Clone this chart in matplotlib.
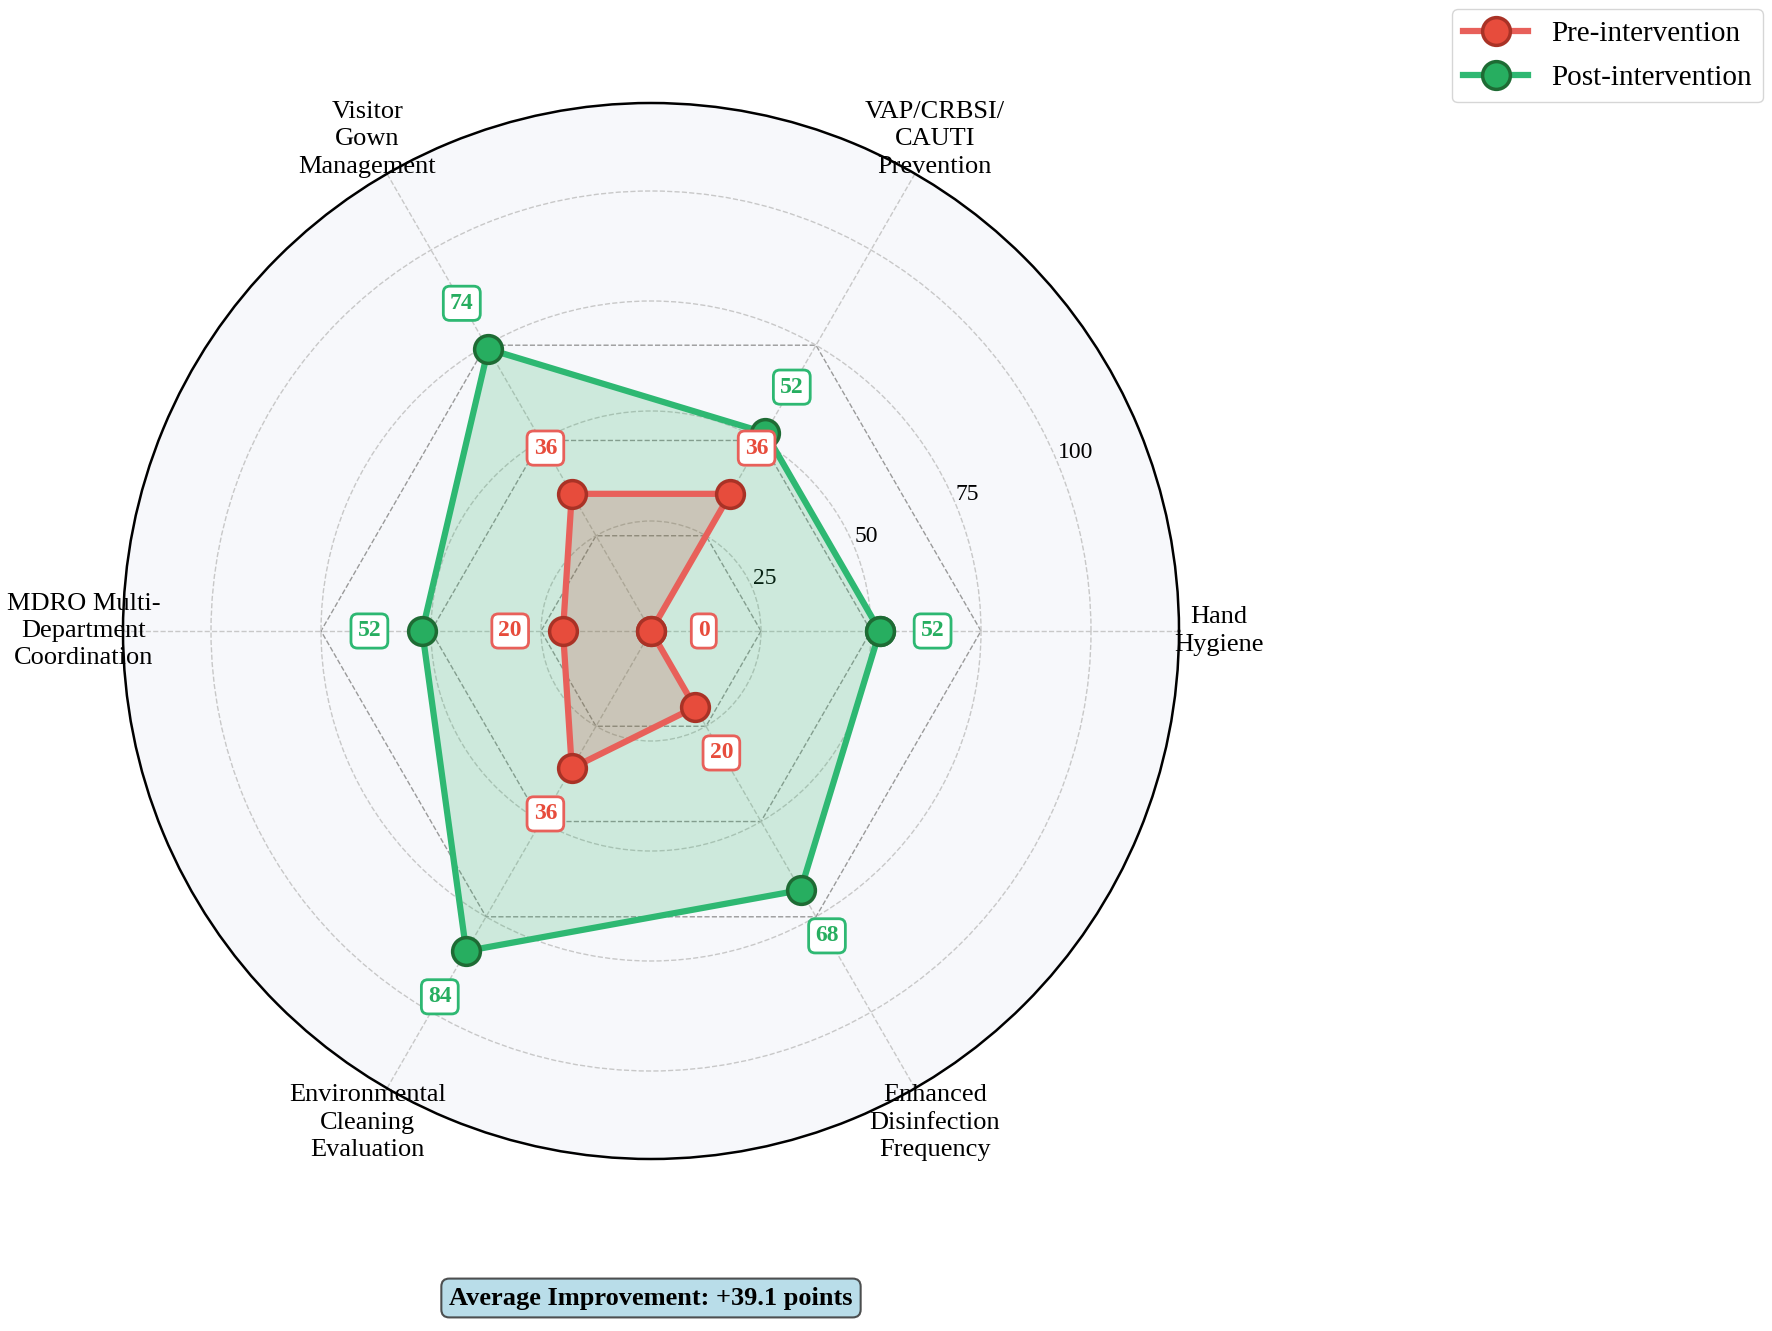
import numpy as np
import matplotlib.pyplot as plt

plt.rcParams['font.family'] = ['Liberation Serif', 'DejaVu Serif']

# data
categories = ['Hand\nHygiene', 'VAP/CRBSI/\nCAUTI\nPrevention', 'Visitor\nGown\nManagement',
              'MDRO Multi-\nDepartment\nCoordination', 'Environmental\nCleaning\nEvaluation',
              'Enhanced\nDisinfection\nFrequency']
pre = [0, 36, 36, 20, 36, 20]
post = [52, 52, 74, 52, 84, 68]
r_ticks = [25, 50, 75, 100]
hex_levels = [25, 50, 75]
summary = 'Average Improvement: +39.1 points'

pre_line, pre_face, pre_edge = '#e8605a', '#e74c3c', '#a93226'
post_line, post_face, post_edge = '#2eb872', '#27ae60', '#1e6b34'

n = len(categories)
angles = np.linspace(0, 2 * np.pi, n, endpoint=False)
ang_c = np.append(angles, angles[0])

fig = plt.figure(figsize=(17.72, 13.31), dpi=100)
ax = fig.add_axes([123 / 1772, 172 / 1331, 1056 / 1772, 1056 / 1331], polar=True)
ax.set_facecolor('#f7f8fb')
ax.set_ylim(0, 120)

# hexagon grid
for r in hex_levels:
    ax.plot(ang_c, [r] * (n + 1), color='#9a9a9a', lw=1.0, ls='--', zorder=1)

ax.plot(ang_c, pre + pre[:1], color=pre_line, lw=4.5, marker='o', markersize=20,
        markerfacecolor=pre_face, markeredgecolor=pre_edge, markeredgewidth=2.5,
        label='Pre-intervention', zorder=4)
ax.fill(ang_c, pre + pre[:1], color='#c0392b', alpha=0.2, zorder=3)
ax.plot(ang_c, post + post[:1], color=post_line, lw=4.5, marker='o', markersize=20,
        markerfacecolor=post_face, markeredgecolor=post_edge, markeredgewidth=2.5,
        label='Post-intervention', zorder=4)
ax.fill(ang_c, post + post[:1], color='#27ae60', alpha=0.2, zorder=2)

# value labels
for a, v in zip(angles, pre):
    ax.text(a, v + 12, str(v), ha='center', va='center', fontsize=17, fontweight='bold',
            color=pre_face, zorder=6,
            bbox=dict(boxstyle='round,pad=0.28', fc='white', ec=pre_line, lw=2))
for a, v in zip(angles, post):
    ax.text(a, v + 12, str(v), ha='center', va='center', fontsize=17, fontweight='bold',
            color=post_face, zorder=6,
            bbox=dict(boxstyle='round,pad=0.28', fc='white', ec=post_line, lw=2))

ax.set_xticks(angles)
ax.set_xticklabels(categories, fontsize=19, linespacing=1.3)
ax.tick_params(axis='x', pad=18)
ax.set_yticks(r_ticks)
ax.set_yticklabels([str(t) for t in r_ticks], fontsize=17)
ax.set_rlabel_position(22.5)
ax.grid(True, color='#c8c8c8', ls='--', lw=1.0)
ax.spines['polar'].set_color('black')
ax.spines['polar'].set_linewidth(1.8)

fig.legend(loc='upper right', bbox_to_anchor=(1.0, 1.0), borderaxespad=0.3, fontsize=21,
           frameon=True, fancybox=True, edgecolor='#cccccc', handlelength=2.2,
           labelspacing=0.6)

fig.text(651 / 1772, 33 / 1331, summary, ha='center', va='center', fontsize=19,
         fontweight='bold',
         bbox=dict(boxstyle='round,pad=0.3', fc='#add8e6', ec='#333333', lw=1.5, alpha=0.85))

fig.savefig('out.png', dpi=100)
